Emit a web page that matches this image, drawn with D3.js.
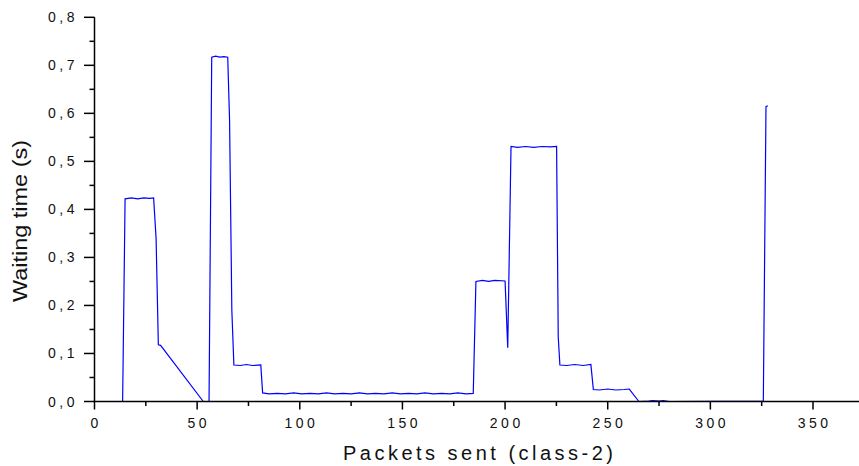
<!DOCTYPE html>
<html>
<head>
<meta charset="utf-8">
<script src="https://cdn.jsdelivr.net/npm/d3@7"></script>
<style>
  html, body { margin: 0; padding: 0; background: #fff; }
  #chart { width: 859px; height: 466px; }
</style>
</head>
<body>
<div id="chart"></div>
<script>
"use strict"

// packets sent (x) and waiting time in seconds (y)
let packetsSent = [
    0, 13.7, 14.9, 18, 21, 24, 27, 28.8, 30, 31.1, 32.2, 53.0, 55.8,
    57.1, 59, 61, 63, 64.9, 65.8, 66.9, 67.9, 71, 74, 77, 81.0,
    81.9, 85, 89, 93, 97, 101, 105, 109, 113, 117, 121, 125, 129, 133, 137,
    141, 145, 149, 153, 157, 161, 165, 169, 173, 177, 181, 184.5,
    185.8, 189, 192, 195, 200, 201.3, 202.9, 206, 210, 214, 218, 222, 225.1,
    225.9, 226.7, 230, 234, 238, 241.8, 243, 246, 250, 254, 258, 260.5,
    265.2, 270, 272, 275, 277, 280, 325.8, 327.1, 328
];
let waitingTime = [
    0, 0, 0.422, 0.424, 0.422, 0.424, 0.423, 0.424, 0.34, 0.118, 0.117, 0, 0,
    0.717, 0.719, 0.717, 0.718, 0.717, 0.585, 0.19, 0.076, 0.075, 0.077, 0.075, 0.076,
    0.018, 0.016, 0.017, 0.016, 0.018, 0.016, 0.017, 0.016, 0.018, 0.016, 0.017, 0.016, 0.018, 0.016, 0.017,
    0.016, 0.018, 0.016, 0.017, 0.016, 0.018, 0.016, 0.017, 0.016, 0.018, 0.016, 0.017,
    0.25, 0.252, 0.25, 0.252, 0.251, 0.112, 0.531, 0.529, 0.531, 0.529, 0.531, 0.53, 0.531,
    0.135, 0.076, 0.075, 0.077, 0.075, 0.077, 0.025, 0.024, 0.026, 0.024, 0.025, 0.026,
    0, 0.001, 0.002, 0.001, 0.002, 0, 0.001, 0.614, 0.616
];

let xTickValues = [0, 50, 100, 150, 200, 250, 300, 350];
let xTickLabels = ["0", "50", "100", "150", "200", "250", "300", "350"];
let xMinorValues = [25, 75, 125, 175, 225, 275, 325];
let yTickValues = [0, 0.1, 0.2, 0.3, 0.4, 0.5, 0.6, 0.7, 0.8];
let yTickLabels = ["0,0", "0,1", "0,2", "0,3", "0,4", "0,5", "0,6", "0,7", "0,8"];
let yMinorValues = [0.05, 0.15, 0.25, 0.35, 0.45, 0.55, 0.65, 0.75];

let WaitingChart = function(targetID) {

    let self = {
        targetElement: null,
        targetSvg: null,
        x: null,
        y: null
    };

    init();

    function init() {
        self.targetElement = d3.select(targetID);

        self.targetSvg = self.targetElement.append("svg")
            .attr("width", 859)
            .attr("height", 466)
            .style("font-family", "'Liberation Sans', Arial, sans-serif");

        self.x = d3.scaleLinear()
            .domain([0, 350])
            .range([94.5, 813]);

        self.y = d3.scaleLinear()
            .domain([0, 0.8])
            .range([401.5, 17.3]);

        drawLine();
        drawXAxis();
        drawYAxis();
        drawAxisTitles();
    }

    function drawLine() {
        let line = d3.line()
            .x((d, i) => self.x(packetsSent[i]))
            .y(d => self.y(d));

        self.targetSvg.append("path")
            .datum(waitingTime)
            .attr("d", line)
            .style("fill", "none")
            .style("stroke", "#0000ff")
            .style("stroke-width", "1.2px");
    }

    function drawXAxis() {
        let y0 = self.y(0);
        self.targetSvg.append("line")
            .attr("x1", self.x(0) - 1)
            .attr("y1", y0)
            .attr("x2", 859)
            .attr("y2", y0)
            .style("stroke", "black")
            .style("stroke-width", "1.5px");

        for (let i = 0; i < xTickValues.length; i++) {
            self.targetSvg.append("line")
                .attr("x1", self.x(xTickValues[i]))
                .attr("y1", y0)
                .attr("x2", self.x(xTickValues[i]))
                .attr("y2", y0 + 8)
                .style("stroke", "black")
                .style("stroke-width", "1.5px");

            self.targetSvg.append("text")
                .attr("x", self.x(xTickValues[i]) + 1.7)
                .attr("y", y0 + 26)
                .style("font-size", "14px")
                .style("letter-spacing", "3.5px")
                .style("text-anchor", "middle")
                .style("fill", "#111")
                .text(xTickLabels[i]);
        }

        for (let v of xMinorValues) {
            self.targetSvg.append("line")
                .attr("x1", self.x(v))
                .attr("y1", y0)
                .attr("x2", self.x(v))
                .attr("y2", y0 + 4.5)
                .style("stroke", "black")
                .style("stroke-width", "1.5px");
        }
    }

    function drawYAxis() {
        let x0 = self.x(0);
        self.targetSvg.append("line")
            .attr("x1", x0)
            .attr("y1", self.y(0.8))
            .attr("x2", x0)
            .attr("y2", self.y(0))
            .style("stroke", "black")
            .style("stroke-width", "1.5px");

        for (let i = 0; i < yTickValues.length; i++) {
            self.targetSvg.append("line")
                .attr("x1", x0 - 10.5)
                .attr("y1", self.y(yTickValues[i]))
                .attr("x2", x0)
                .attr("y2", self.y(yTickValues[i]))
                .style("stroke", "black")
                .style("stroke-width", "1.5px");

            self.targetSvg.append("text")
                .attr("x", 78)
                .attr("y", self.y(yTickValues[i]) + 5)
                .style("font-size", "14px")
                .style("letter-spacing", "3.5px")
                .style("text-anchor", "end")
                .style("fill", "#111")
                .text(yTickLabels[i]);
        }

        for (let v of yMinorValues) {
            self.targetSvg.append("line")
                .attr("x1", x0 - 5)
                .attr("y1", self.y(v))
                .attr("x2", x0)
                .attr("y2", self.y(v))
                .style("stroke", "black")
                .style("stroke-width", "1.5px");
        }
    }

    function drawAxisTitles() {
        self.targetSvg.append("text")
            .attr("x", 478)
            .attr("y", 460)
            .attr("textLength", 270)
            .attr("lengthAdjust", "spacing")
            .style("font-size", "20px")
            .style("text-anchor", "middle")
            .style("fill", "#111")
            .text("Packets sent (class-2)");

        self.targetSvg.append("text")
            .attr("transform", "translate(27,221) rotate(-90)")
            .attr("x", 0)
            .attr("y", 0)
            .attr("textLength", 162)
            .attr("lengthAdjust", "spacingAndGlyphs")
            .style("font-size", "20px")
            .style("text-anchor", "middle")
            .style("fill", "#111")
            .text("Waiting time (s)");
    }
}

WaitingChart("#chart");
</script>
</body>
</html>
